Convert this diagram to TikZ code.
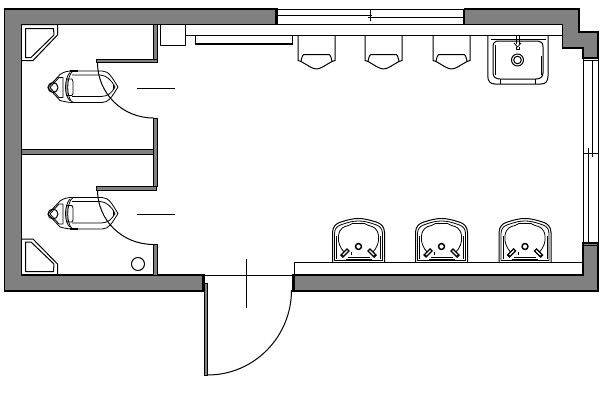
\documentclass[tikz,border=0pt]{standalone}
\definecolor{wallgray}{HTML}{808080}
\tikzset{
  x=0.75pt,y=-0.75pt,
  ink/.style={draw=black,line width=0.75pt,line join=round},
  fine/.style={draw=black,line width=0.6pt,line join=round},
  wall/.style={fill=wallgray,draw=black,line width=0.85pt,line join=miter},
  partition/.style={fill=wallgray,draw=black,line width=0.7pt},
  pics/urinalunit/.style={code={
    \draw[ink] (0,35.5) -- (0,60.5) -- (3,61.5);
    \draw[ink] (37,35.5) -- (37,60.5) -- (34,61.5);
    \draw[ink] (3,61.5) .. controls (3.5,57.5) and (5,54.5) .. (6,54.5) -- (31,54.5) .. controls (32,54.5) and (33.5,57.5) .. (34,61.5);
    \draw[ink] (3,61.5) .. controls (8,64) and (14,69) .. (18.5,69) .. controls (23,69) and (29,64) .. (34,61.5);
  }},
  pics/basinunit/.style={code={
    \draw[ink] (-26,44) -- (-26,14) .. controls (-26,8) and (-22,5) .. (-19,4) .. controls (-10,1) and (-5,0) .. (0,0) .. controls (5,0) and (10,1) .. (19,4) .. controls (22,5) and (26,8) .. (26,14) -- (26,44);
    \draw[fine] (-24,42) -- (-24,15) .. controls (-24,10) and (-21,7.5) .. (-18,6.5) .. controls (-10,3.5) and (-5,2.5) .. (0,2.5) .. controls (5,2.5) and (10,3.5) .. (18,6.5) .. controls (21,7.5) and (24,10) .. (24,15) -- (24,42) -- (-24,42);
    \draw[fine] (-22,40) -- (-22,17);
    \draw[fine] (22,40) -- (22,17);
    \draw[fine] (-14,34) .. controls (-18,30) and (-21,24) .. (-20,17) .. controls (-19,10) and (-15,8) .. (-10,7) -- (-6,5) -- (6,5) -- (10,7) .. controls (15,8) and (19,10) .. (20,17) .. controls (21,24) and (18,30) .. (14,34);
    \draw[ink,line width=1.1pt] (0,28) circle (3);
    \draw[fine] (-11,38.5) -- (11,38.5);
    \draw[fine] (-13,40.5) -- (13,40.5);
    \foreach \s in {-1,1}{
      \draw[black,line width=3pt] (\s*17,38) -- (\s*10,31);
      \draw[white,line width=1pt] (\s*15.5,36.5) -- (\s*11,32);
    }
    \draw[fine] (-7,36.5) -- (-7,33.5);
  }},
  pics/toiletunit/.style={code={
    \draw[fine] (-40,0) -- (-28,-13) .. controls (-24,-16) and (-20,-16.5) .. (-15,-16.5) -- (14,-16.5) .. controls (21,-16.5) and (24,-10) .. (30,-0.5) .. controls (24,9) and (21,15) .. (14,15) -- (-15,15) .. controls (-20,15) and (-24,14) .. (-28,13) -- cycle;
    \draw[fine] (-15,-16.5) .. controls (-22,-12) and (-22,12) .. (-15,15);
    \draw[fine] (-18,-15) .. controls (-24,-9) and (-24,9) .. (-18,13);
    \draw[fine] (-38,0) -- (-29,-10) -- (-25,-10) -- (-25,10) -- (-29,10) -- cycle;
    \draw[ink] (-35,0) circle (5);
    \draw[fine] (-21,-8.5) -- (-16,-8.5) -- (-15,-6) -- (-15,6) -- (-16,8) -- (-21,8) -- cycle;
    \draw[fine] (-16,-12.5) -- (12,-12.5) .. controls (18,-12.5) and (24,-7) .. (27,-0.5) .. controls (24,5) and (20,9) .. (13,9) -- (-16,9);
    \draw[ink,line width=1.1pt] (-18,-16.5) -- (-10,-16.5);
    \draw[ink,line width=1.1pt] (-18,15) -- (-10,15);
    \draw[fine] (25,-3) -- (25,2);
  }}
}
\begin{document}
\begin{tikzpicture}
\useasboundingbox (0,0) rectangle (600,400);
\fill[white] (0,0) rectangle (600,400);

% outer walls
\path[wall] (4.5,9) -- (277,9) -- (277,24.5) -- (21.5,24.5) -- (21.5,275) -- (204,275) -- (204,291) -- (4.5,291) -- cycle;
\path[wall] (464.5,9) -- (579,9) -- (579,32) -- (598,32) -- (598,58) -- (583,58) -- (583,48) -- (562.5,48) -- (562.5,24.5) -- (464.5,24.5) -- cycle;
\path[wall] (293,275) -- (583,275) -- (583,243) -- (598,243) -- (598,291) -- (293,291) -- cycle;
\draw[ink] (275.8,9) -- (275.8,24.5);
\draw[ink] (463.7,9) -- (463.7,24.5);
\draw[ink] (202.3,275) -- (202.3,291);
\draw[ink] (294.5,275) -- (294.5,291);

% top window
\draw[ink] (277,9) -- (464,9);
\draw[ink] (277,24.5) -- (464,24.5);
\draw[ink] (277,15) -- (372,15);
\draw[ink] (368,17.5) -- (464,17.5);
\draw[ink] (370,10) -- (370,21);

% right window
\draw[ink] (583,58) -- (583,243);
\draw[ink] (598,58) -- (598,243);
\draw[ink] (583,60.5) -- (598,60.5);
\draw[ink] (583,245) -- (598,245);
\draw[ink] (592,60.5) -- (592,157);
\draw[ink] (588,148) -- (588,243);
\draw[ink] (583,153) -- (598,153);

% counter and dispensers
\draw[ink] (185,35.5) -- (562.5,35.5);
\draw[ink] (160.5,24.5) rectangle (185,45);
\draw[ink] (195.5,35.5) -- (195.5,44) -- (292.5,44) -- (292.5,35.5);
\draw[ink,line width=1.4pt] (195.5,44) -- (292.5,44);
\path (298,0) pic {urinalunit};
\path (365,0) pic {urinalunit};
\path (433,0) pic {urinalunit};

% service sink
\draw[ink] (487.8,35.5) -- (487.8,76) .. controls (487.8,81) and (490,84) .. (495,84) -- (541,84) .. controls (546,84) and (548,81) .. (548,76) -- (548,35.5);
\draw[ink] (497,41) -- (538,41) .. controls (541,41) and (543,43) .. (543,47) -- (543,73) .. controls (543,77) and (540,79) .. (536,79) -- (500,79) .. controls (496,79) and (493,77) .. (493,73) -- (493,47) .. controls (493,43) and (495,41) .. (497,41);
\draw[fine] (495,45) -- (495,75);
\draw[fine] (541,56) -- (541,75);
\draw[fine] (490.5,39) -- (545.5,39);
\draw[ink] (500.5,79) -- (500.5,84);
\draw[ink] (535,79) -- (535,84);
\draw[fine] (516,35.5) -- (516,44);
\draw[fine] (519,35.5) -- (519,44);
\draw[fine] (514,43) -- (517.5,47) -- (521,43);
\draw[fine] (516,47) -- (516,49) -- (519,49) -- (519,47);
\draw[ink] (517.5,60) circle (6);
\draw[ink] (517.5,60) circle (3.8);

% partitions
\path[partition] (153.5,24.5) rectangle (157.5,62.5);
\path[partition] (96.5,59) rectangle (157.5,62.5);
\path[partition] (153.5,118) rectangle (157.5,186);
\path[partition] (21.5,149.5) rectangle (153.5,154);
\path[partition] (96.5,186.5) rectangle (156,190);
\path[partition] (153.5,244.5) rectangle (157.5,275);

% stall doors
\draw[ink] (97.5,62.5) .. controls (97.5,93) and (122,118) .. (153.5,118);
\draw[ink] (97.5,190) .. controls (97.5,220) and (122,244.5) .. (153.5,244.5);
\draw[ink] (137,88.3) -- (175,88.3);
\draw[ink] (137,214.3) -- (175,214.3);

% corner fixtures
\draw[ink] (21.5,24.5) -- (57.5,24.5) -- (57.5,35) -- (33,60.5) -- (21.5,60.5);
\draw[ink] (25.5,28.5) -- (53.5,28.5) -- (54,35) -- (31,57.5) -- (25.5,57.5) -- cycle;
\draw[ink] (21.5,239) -- (33,239) -- (57.5,264) -- (57.5,275);
\draw[ink] (25.5,271.5) -- (53.5,271.5) -- (54,264) -- (31,242) -- (25.5,242) -- cycle;

% toilets
\path (88,87.5) pic {toiletunit};
\path (88,214) pic {toiletunit};

% floor drain
\draw[ink] (138,264) circle (6.5);

% basins on bench
\draw[ink] (294.5,275) -- (294.5,262) -- (583,262);
\path (358.5,218.5) pic {basinunit};
\path (441.5,218.5) pic {basinunit};
\path (525,218.5) pic {basinunit};

% entrance door
\draw[ink] (204,275) -- (293,275);
\draw[ink] (246.7,259) -- (246.7,307.5);
\path[partition] (204.5,283) rectangle (207.5,375.5);
\draw[ink] (207.5,375) .. controls (254,375) and (291.5,337) .. (291.5,290);
\end{tikzpicture}
\end{document}
